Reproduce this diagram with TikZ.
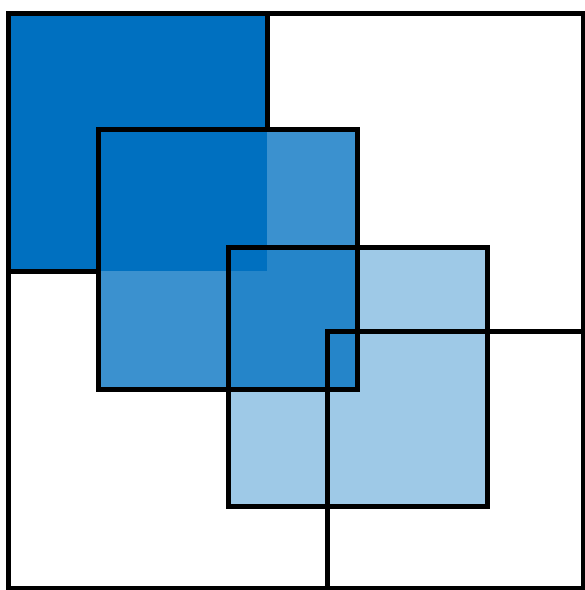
\documentclass[tikz,border=0pt]{standalone}
\usetikzlibrary{positioning}
\definecolor{accent}{HTML}{0070C0}
\tikzset{
  edge/.style={draw=black, line width=5pt, line join=miter},
  pane/.style={fill=accent},
  midpane/.style={fill=accent, fill opacity=0.77},
  lightpane/.style={fill=accent, fill opacity=0.38}}

\begin{document}
\begin{tikzpicture}[x=1pt, y=-1pt]
\useasboundingbox (0,0) rectangle (585,590);
% corners of the panes
\coordinate (fa) at (8,13);    \coordinate (fb) at (583,588);
\coordinate (pa) at (8,13);    \coordinate (pb) at (267,271);
\coordinate (qa) at (98,129);  \coordinate (qb) at (357,389);
\coordinate (ra) at (228,247); \coordinate (rb) at (487,506);
\coordinate (sa) at (327,331); \coordinate (sb) at (583,588);
% fills
\fill[pane] (pa) rectangle (pb);
\fill[midpane] (qa) rectangle (qb);
\fill[lightpane] (ra) rectangle (rb);
% outlines
\draw[edge] (fa) rectangle (fb);
\draw[edge] (pb |- pa) -- (pb |- qa);
\draw[edge] (pa |- pb) -- (qa |- pb);
\draw[edge] (qa) rectangle (qb);
\draw[edge] (ra) rectangle (rb);
\draw[edge] (sa) rectangle (sb);
\end{tikzpicture}
\end{document}
